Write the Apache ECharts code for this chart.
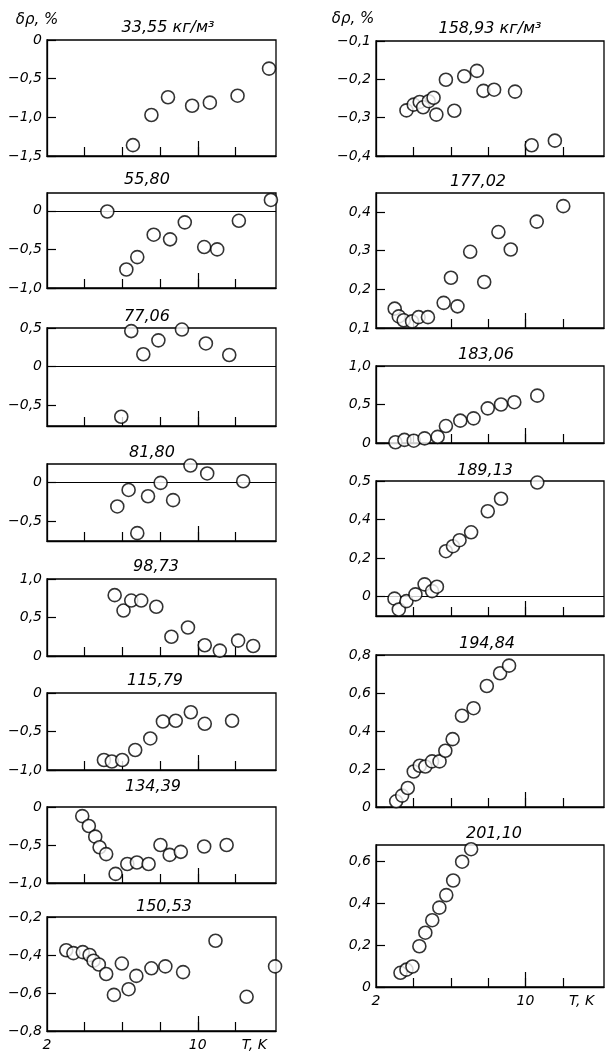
<!DOCTYPE html>
<html><head><meta charset="utf-8">
<script src="https://cdn.jsdelivr.net/npm/echarts@6/dist/echarts.min.js"></script>
<style>html,body{margin:0;padding:0;background:#fff}#c{width:605px;height:1054px}</style>
</head><body><div id="c"></div>
<script>
// ---- data (T in K, value in %) ----
const titles = ['33,55 кг/м³','55,80','77,06','81,80','98,73','115,79','134,39','150,53',
                '158,93 кг/м³','177,02','183,06','189,13','194,84','201,10'];

const t1 = [6.56, 7.54, 8.42, 9.70, 10.64, 12.11, 13.78];
const v1 = [-1.36, -0.97, -0.74, -0.85, -0.81, -0.72, -0.37];
const t2 = [5.20, 6.21, 6.79, 7.66, 8.53, 9.31, 10.34, 11.03, 12.18, 13.88];
const v2 = [-0.01, -0.76, -0.60, -0.31, -0.37, -0.15, -0.47, -0.50, -0.13, 0.14];
const t3 = [5.94, 6.47, 7.11, 7.91, 9.16, 10.43, 11.67];
const v3 = [-0.65, 0.46, 0.16, 0.34, 0.48, 0.30, 0.15];
const t4 = [5.73, 6.33, 6.79, 7.36, 8.03, 8.69, 9.61, 10.50, 12.41];
const v4 = [-0.31, -0.10, -0.65, -0.18, -0.01, -0.23, 0.21, 0.11, 0.01];
const t5 = [5.59, 6.06, 6.47, 7.00, 7.80, 8.60, 9.48, 10.37, 11.17, 12.14, 12.94];
const v5 = [0.79, 0.59, 0.72, 0.72, 0.64, 0.25, 0.37, 0.14, 0.07, 0.20, 0.13];
const t6 = [5.02, 5.44, 5.99, 6.68, 7.48, 8.15, 8.83, 9.63, 10.37, 11.82];
const v6 = [-0.87, -0.89, -0.87, -0.74, -0.59, -0.37, -0.36, -0.25, -0.40, -0.36];
const t7 = [3.87, 4.22, 4.56, 4.79, 5.14, 5.64, 6.26, 6.77, 7.39, 8.02, 8.51, 9.10, 10.34, 11.53];
const v7 = [-0.12, -0.25, -0.39, -0.53, -0.62, -0.88, -0.75, -0.73, -0.75, -0.50, -0.63, -0.59, -0.52, -0.50];
const t8 = [3.02, 3.40, 3.90, 4.26, 4.47, 4.75, 5.14, 5.55, 5.97, 6.33, 6.74, 7.54, 8.28, 9.22, 10.94, 12.59, 14.10];
const v8 = [-0.375, -0.39, -0.385, -0.40, -0.43, -0.45, -0.50, -0.61, -0.445, -0.58, -0.51, -0.47, -0.46, -0.49, -0.325, -0.62, -0.46];

const t9 = [3.63, 4.02, 4.34, 4.52, 4.82, 5.08, 5.23, 5.74, 6.19, 6.72, 7.40, 7.75, 8.32, 9.44, 10.33, 11.57];
const v9 = [-0.281, -0.266, -0.259, -0.273, -0.257, -0.248, -0.292, -0.201, -0.282, -0.192, -0.178, -0.230, -0.227, -0.232, -0.372, -0.360];
const t10 = [3.00, 3.22, 3.48, 3.93, 4.28, 4.78, 5.62, 6.01, 6.36, 7.04, 7.79, 8.55, 9.21, 10.60, 12.02];
const v10 = [0.150, 0.130, 0.120, 0.117, 0.128, 0.128, 0.165, 0.230, 0.156, 0.297, 0.219, 0.348, 0.303, 0.375, 0.415];
const t11 = [3.04, 3.52, 4.02, 4.60, 5.30, 5.74, 6.51, 7.22, 7.98, 8.69, 9.40, 10.63];
const v11 = [0.01, 0.04, 0.03, 0.06, 0.08, 0.22, 0.29, 0.32, 0.45, 0.50, 0.53, 0.615];
const t12 = [2.99, 3.22, 3.63, 4.11, 4.60, 5.00, 5.26, 5.74, 6.12, 6.47, 7.09, 7.98, 8.69, 10.63];
const v12 = [-0.01, -0.066, -0.023, 0.012, 0.064, 0.029, 0.052, 0.236, 0.262, 0.293, 0.334, 0.443, 0.508, 0.592];
const t13 = [3.08, 3.40, 3.70, 4.02, 4.34, 4.64, 5.00, 5.40, 5.71, 6.10, 6.60, 7.22, 7.93, 8.64, 9.12];
const v13 = [0.03, 0.06, 0.10, 0.187, 0.217, 0.213, 0.24, 0.24, 0.296, 0.357, 0.48, 0.52, 0.637, 0.704, 0.744];
const t14 = [3.31, 3.63, 3.95, 4.32, 4.64, 5.01, 5.39, 5.76, 6.13, 6.61, 7.09];
const v14 = [0.068, 0.083, 0.098, 0.195, 0.26, 0.32, 0.38, 0.44, 0.51, 0.60, 0.66];

// tick values (y) for each panel, and printed labels where they differ
const yTicks = [
  [-1.5, -1.0, -0.5, 0], [-1.0, -0.5, 0], [-0.5, 0, 0.5], [-0.5, 0], [0, 0.5, 1.0], [-1.0, -0.5, 0], [-1.0, -0.5, 0], [-0.8, -0.6, -0.4, -0.2],
  [-0.4, -0.3, -0.2, -0.1], [0.1, 0.2, 0.3, 0.4], [0, 0.5, 1.0], [0, 0.2, 0.4, 0.6], [0, 0.2, 0.4, 0.6, 0.8], [0, 0.2, 0.4, 0.6]
];
const yTickText12 = ['0', '0,2', '0,4', '0,5'];
const xTicks = [4, 6, 8, 10, 12];
const xLongTick = [10];
const xLabelVals = [2, 10, 13];
const xLabelText = ['2', '10', 'T, K'];
const yName = 'δρ, %';

// ---- layout ----
const T = [t1,t2,t3,t4,t5,t6,t7,t8,t9,t10,t11,t12,t13,t14];
const V = [v1,v2,v3,v4,v5,v6,v7,v8,v9,v10,v11,v12,v13,v14];
const layout = [
  // col, top, height, ymin, ymax, title x, title y
  [0, 40, 116, -1.5, 0, 168, 28],
  [0, 193, 95, -1.0, 0.23, 147, 180],
  [0, 328, 98, -0.77, 0.5, 147, 317],
  [0, 464, 77, -0.75, 0.23, 152, 453],
  [0, 579, 77, 0, 1.0, 156, 567],
  [0, 693, 77, -1.0, 0, 155, 681],
  [0, 807, 76, -1.0, 0, 153, 787],
  [0, 917, 114, -0.8, -0.2, 164, 907],
  [1, 41, 115, -0.4, -0.1, 490, 29],
  [1, 193, 135, 0.1, 0.449, 478, 182],
  [1, 366, 77, 0, 1.0, 486, 355],
  [1, 481, 135, -0.1, 0.6, 485, 471],
  [1, 655, 152, 0, 0.8, 487, 644],
  [1, 845, 142, 0, 0.68, 494, 834]
];
const colLeft = [47, 376], colWidth = [229, 228], colMax = [14.15, 14.2];
const bottomPanels = [7, 13];

const FONT = 'DejaVu Sans';
function fmt(v) {
  if (Math.abs(v) < 1e-9) return '0';
  return (v < 0 ? '−' : '') + Math.abs(v).toFixed(1).replace('.', ',');
}

const grid = [], xAxis = [], yAxis = [], series = [], graphic = [];
layout.forEach((L, i) => {
  const [col, top, h, ymin, ymax, tx, ty] = L;
  grid.push({left: colLeft[col], top: top, width: colWidth[col], height: h,
             show: true, borderColor: '#000', borderWidth: 1.3, backgroundColor: 'transparent'});
  const isBottom = bottomPanels.includes(i);
  xAxis.push({gridIndex: i, type: 'value', min: 2, max: colMax[col], position: 'bottom',
    axisLine: {show: true, onZero: false, lineStyle: {color: '#000', width: 1.3}},
    axisTick: {show: true, inside: true, length: 9, customValues: xTicks, lineStyle: {color: '#000', width: 1.2}},
    axisLabel: {show: isBottom, customValues: xLabelVals, margin: 7,
      formatter: v => xLabelText[xLabelVals.indexOf(v)] ?? '',
      color: '#000', fontFamily: FONT, fontStyle: 'italic', fontSize: 14},
    splitLine: {show: false}});
  xAxis.push({gridIndex: i, type: 'value', min: 2, max: colMax[col], position: 'bottom',
    axisLine: {show: false, onZero: false},
    axisTick: {show: true, inside: true, length: 15, customValues: xLongTick, lineStyle: {color: '#000', width: 1.2}},
    axisLabel: {show: false}, splitLine: {show: false}});
  const ticks = yTicks[i];
  yAxis.push({gridIndex: i, type: 'value', min: ymin, max: ymax,
    axisLine: {show: true, onZero: false, lineStyle: {color: '#000', width: 1.3}},
    axisTick: {show: true, inside: true, length: 9, customValues: ticks, lineStyle: {color: '#000', width: 1.2}},
    axisLabel: {show: true, customValues: ticks, margin: 5,
      formatter: v => (i === 11 ? yTickText12[ticks.indexOf(v)] : fmt(v)),
      color: '#000', fontFamily: FONT, fontStyle: 'italic', fontSize: 14},
    splitLine: {show: false}});
  const s = {type: 'scatter', xAxisIndex: 2 * i, yAxisIndex: i, z: 3,
    data: T[i].map((t, k) => [t, V[i][k]]),
    symbol: 'circle', symbolSize: 13,
    itemStyle: {color: '#fff', borderColor: '#000', borderWidth: 1.6},
    clip: true, silent: true};
  if (ymin < 0 && ymax > 0) {
    s.markLine = {silent: true, z: 1, symbol: 'none', label: {show: false},
      lineStyle: {color: '#000', type: 'solid', width: 1.2}, data: [{yAxis: 0}], animation: false};
  }
  series.push(s);
  graphic.push({type: 'text', x: tx, y: ty, silent: true,
    style: {text: titles[i], textAlign: 'center', textVerticalAlign: 'middle',
      font: 'italic 16px "' + FONT + '"', fill: '#000'}});
});
graphic.push({type: 'text', x: 37, y: 20, style: {text: yName, textAlign: 'center', textVerticalAlign: 'middle', font: 'italic 15px "' + FONT + '"', fill: '#000'}});
graphic.push({type: 'text', x: 353, y: 19, style: {text: yName, textAlign: 'center', textVerticalAlign: 'middle', font: 'italic 15px "' + FONT + '"', fill: '#000'}});

const chart = echarts.init(document.getElementById('c'), null, {renderer: 'canvas'});
chart.setOption({animation: false, backgroundColor: '#fff', grid, xAxis, yAxis, series, graphic});
</script></body></html>
